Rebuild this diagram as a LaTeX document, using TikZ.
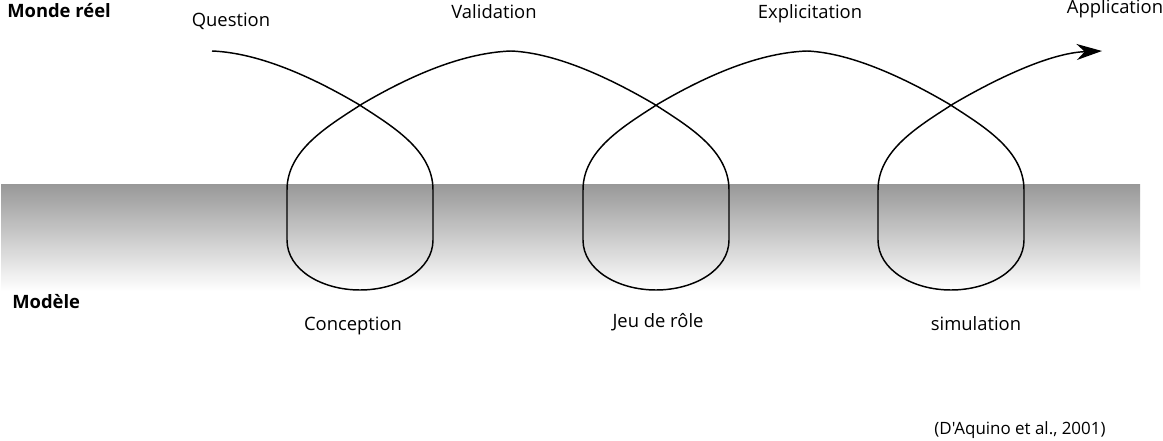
\documentclass[tikz,border=0pt]{standalone}
\usepackage{fontspec}
\setmainfont{Open Sans}[Ligatures=TeXOff]
\usetikzlibrary{arrows.meta}
\begin{document}
\begin{tikzpicture}[x=0.75pt,y=-0.75pt,
  lbl/.style={font=\fontsize{13.8}{16}\selectfont, inner sep=0pt, anchor=base},
  ttl/.style={font=\fontsize{13.8}{16}\selectfont\bfseries, inner sep=0pt, anchor=base west},
  cite/.style={font=\fontsize{12.7}{15}\selectfont, inner sep=0pt, anchor=base},
  loopline/.style={line width=1.1pt, black}]
\useasboundingbox (0,0) rectangle (1163,441);
\fill[white] (0,0) rectangle (1163,441);
\definecolor{bandtop}{RGB}{153,153,153}
\shade[top color=bandtop, bottom color=white] (1,185) rectangle (1140,291);
\draw[loopline,-{Stealth[length=19pt,width=12pt,inset=6pt]}] (212,51)
  foreach \p in {212,508,803}{
    .. controls (\p+50,53) and (\p+105,80) .. (\p+146,104)
    .. controls (\p+180,126) and (\p+221,150) .. (\p+221,190)
    -- (\p+221,240)
    .. controls (\p+221,270) and (\p+186,290) .. (\p+148,290)
    .. controls (\p+110,290) and (\p+75,270) .. (\p+75,240)
    -- (\p+75,190)
    .. controls (\p+75,150) and (\p+116,126) .. (\p+150,104)
    .. controls (\p+191,80) and (\p+246,53) .. (\p+299,51)
  };
\node[ttl] (monde) at (7,18) {Monde réel};
\node[ttl] (modele) at (12,309) {Modèle};
\node[lbl] (question) at (231,27) {Question};
\node[lbl] (validation) at (494,19) {Validation};
\node[lbl] (explicitation) at (810,19) {Explicitation};
\node[lbl] (application) at (1115,14) {Application};
\node[lbl] (conception) at (353,330) {Conception};
\node[lbl] (jeu) at (658,328) {Jeu de rôle};
\node[lbl] (simulation) at (976,330) {simulation};
\node[cite] (ref) at (1020,434) {(D'Aquino et al., 2001)};
\end{tikzpicture}
\end{document}
